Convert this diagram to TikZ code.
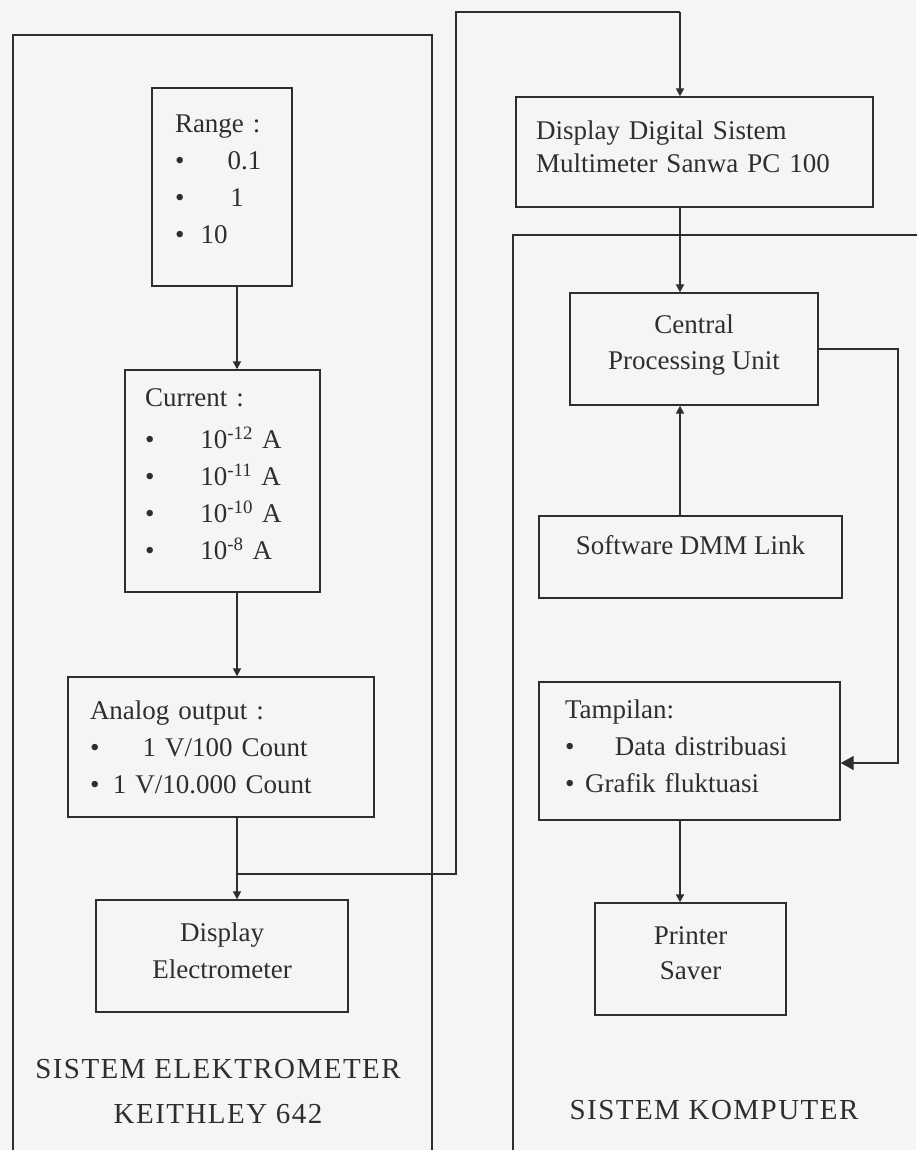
\documentclass[tikz,border=0pt]{standalone}
\usepackage{fontspec}
\setmainfont{Liberation Serif}
\usetikzlibrary{arrows.meta}
\definecolor{ink}{HTML}{2E2E2E}
\definecolor{paper}{HTML}{F5F5F3}
\begin{document}
\begin{tikzpicture}[x=1pt,y=-1pt,
  box/.style={draw=ink, line width=1.4pt, fill=paper, font=\fontsize{27}{37}\selectfont, align=left, inner xsep=0pt, inner ysep=0pt, text=ink},
  cbox/.style={box, align=center},
  frame/.style={draw=ink, line width=2.4pt},
  conn/.style={draw=ink, line width=1.8pt, -{Triangle[width=8pt,length=8pt]}},
  wire/.style={draw=ink, line width=1.3pt},
  bigconn/.style={draw=ink, line width=1.3pt, -{Triangle[width=14pt,length=13pt]}},
  syslabel/.style={font=\fontsize{29}{45}\selectfont\addfontfeature{LetterSpace=5}, align=center, text=ink}]

\fill[paper] (0,0) rectangle (916,1150);
\useasboundingbox (0,0) rectangle (916,1150);

% frames
\draw[frame] (13,1152) -- (13,35) -- (432,35) -- (432,1152);
\draw[frame] (513,1152) -- (513,235) -- (918,235);

% left column
\node[box, minimum width=140pt, minimum height=198pt, text width=94pt] (range) at (222,187)
  {Range :\\ \textbullet\hspace{1.6em}0.1\\ \textbullet\hspace{1.7em}1\\ \textbullet\hspace{0.6em}10\\[-22pt]\mbox{}};
\node[box, minimum width=195pt, minimum height=222pt, text width=155pt] (current) at (222.5,481)
  {Current :\\[5pt]
   \textbullet\hspace{1.7em}10\textsuperscript{-12} A\\
   \textbullet\hspace{1.7em}10\textsuperscript{-11} A\\
   \textbullet\hspace{1.7em}10\textsuperscript{-10} A\\
   \textbullet\hspace{1.7em}10\textsuperscript{-8} A\\[-24pt]\mbox{}};
\node[box, minimum width=306pt, minimum height=140pt, text width=262pt] (analog) at (221,747)
  {Analog output :\\ \textbullet\hspace{1.6em}1 V/100 Count\\ \textbullet\hspace{0.5em}1 V/10.000 Count};
\node[cbox, minimum width=252pt, minimum height=112pt] (delec) at (222,956)
  {Display\\ Electrometer\\[-27pt]\mbox{}};
\node[syslabel] (lablL) at (218,1092) {SISTEM ELEKTROMETER\\ KEITHLEY 642};

% right column
\node[box, minimum width=357pt, minimum height=110pt, text width=317pt,
      font=\fontsize{27}{33}\selectfont] (ddig) at (694.5,152)
  {Display Digital Sistem\\ Multimeter Sanwa PC 100\\[-22pt]\mbox{}};
\node[cbox, minimum width=248pt, minimum height=112pt, font=\fontsize{27}{36}\selectfont] (cpu) at (694,349)
  {Central\\ Processing Unit\\[-23pt]\mbox{}};
\node[cbox, minimum width=303pt, minimum height=82pt] (soft) at (690.5,557)
  {Software DMM Link\\[-13pt]\mbox{}};
\node[box, minimum width=301pt, minimum height=138pt, text width=249pt] (tamp) at (689.5,751)
  {Tampilan:\\ \textbullet\hspace{1.5em}Data distribuasi\\ \textbullet\hspace{0.4em}Grafik fluktuasi\\[-27pt]\mbox{}};
\node[cbox, minimum width=191pt, minimum height=112pt, font=\fontsize{27}{35}\selectfont] (printer) at (690.5,959)
  {Printer\\ Saver\\[-24pt]\mbox{}};
\node[syslabel] (lablR) at (714,1110) {SISTEM KOMPUTER};

% helper coordinates
\coordinate (lx) at (237,0);
\coordinate (rx) at (680,0);
\coordinate (j) at (237,874);
\coordinate (up) at (456,12);
\coordinate (rr) at (898,0);
\coordinate (ty) at (0,763);

% connectors left
\draw[conn] (range.south -| lx) -- (current.north -| lx);
\draw[conn] (current.south -| lx) -- (analog.north -| lx);
\draw[conn] (analog.south -| lx) -- (delec.north -| lx);
\draw[wire] (j) -- (j -| up) -- (up) -- (up -| rx);
\draw[conn] (up -| rx) -- (ddig.north -| rx);

% connectors right
\draw[conn] (ddig.south -| rx) -- (cpu.north -| rx);
\draw[conn] (soft.north -| rx) -- (cpu.south -| rx);
\draw[conn] (tamp.south -| rx) -- (printer.north -| rx);
\draw[bigconn] (cpu.east) -- (cpu.east -| rr) -- (rr |- ty) -- (tamp.east |- ty);
\end{tikzpicture}
\end{document}
